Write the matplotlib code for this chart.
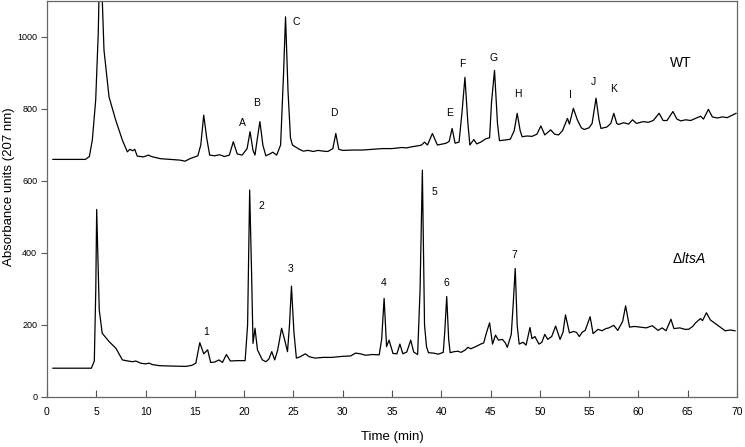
import numpy as np
import matplotlib
matplotlib.use('Agg')
import matplotlib.pyplot as plt

plt.rcParams['font.family'] = ['Liberation Sans', 'DejaVu Sans']
plt.rcParams['mathtext.fontset'] = 'custom'
plt.rcParams['mathtext.rm'] = 'Liberation Sans'
plt.rcParams['mathtext.it'] = 'Liberation Sans:italic'

# WT trace (time in min, absorbance units)
wt_t = [0.6, 3.9, 4.3, 4.6, 4.94, 5.2, 5.45, 5.55, 5.78, 6.29, 6.97, 7.64, 8.15, 8.4, 8.7, 8.9,
        9.16, 9.8, 10.3, 10.6, 11.5, 12.5, 13.5, 14.0, 14.5, 15.3, 15.6, 15.9, 16.2, 16.5,
        17.0, 17.5, 18.0, 18.5, 18.9, 19.3, 19.8, 20.3, 20.6, 20.9, 21.1, 21.35, 21.6, 21.9,
        22.2, 22.6, 22.9, 23.3, 23.7, 24.0, 24.2, 24.45, 24.7, 24.9, 25.2, 25.6, 26.0, 26.5,
        27.0, 27.5, 28.0, 28.5, 29.0, 29.3, 29.6, 30.0, 31.0, 32.0, 33.0, 34.0, 35.0, 36.0,
        36.5, 37.0, 37.7, 38.0, 38.3, 38.6, 39.1, 39.6, 40.0, 40.5, 40.8, 41.1, 41.4, 41.8,
        42.1, 42.4, 42.7, 42.9, 43.3, 43.6, 44.0, 44.5, 44.9, 45.1, 45.4, 45.7, 45.9, 46.5,
        47.0, 47.4, 47.7, 48.0, 48.2, 48.7, 49.2, 49.7, 50.1, 50.5, 50.8, 51.1, 51.5, 51.9,
        52.3, 52.8, 53.0, 53.4, 53.8, 54.2, 54.5, 55.0, 55.3, 55.7, 56.0, 56.2, 56.8, 57.2,
        57.5, 57.8, 58.0, 58.5, 59.0, 59.4, 59.8, 60.5, 61.0, 61.5, 62.1, 62.5, 62.9, 63.5,
        63.9, 64.3, 64.8, 65.3, 65.8, 66.3, 66.6, 67.1, 67.5, 68.0, 68.5, 69.0, 69.9]
wt_v = [660, 660, 668, 714, 825, 1011, 1350, 1150, 964, 834, 769, 714, 681, 688, 684, 688,
        669, 667, 672, 668, 662, 660, 658, 655, 662, 670, 700, 783, 720, 672,
        670, 673, 668, 672, 709, 675, 672, 690, 737, 685, 672, 720, 765, 700,
        670, 675, 680, 672, 700, 900, 1056, 850, 720, 700, 695, 688, 683, 685,
        682, 685, 683, 682, 690, 732, 688, 685, 686, 686, 688, 690, 690, 693,
        692, 695, 698, 700, 708, 700, 732, 700, 702, 705, 710, 746, 705, 708,
        790, 888, 760, 700, 715, 703, 708, 717, 720, 820, 907, 760, 712, 714,
        716, 740, 788, 740, 723, 725, 724, 730, 753, 728, 735, 742, 730, 728,
        740, 774, 758, 802, 770, 748, 743, 748, 760, 830, 770, 746, 750, 760,
        788, 760, 757, 762, 758, 770, 760, 765, 763, 768, 788, 768, 768, 793,
        772, 767, 770, 768, 774, 780, 772, 799, 778, 775, 778, 776, 788]

# delta ltsA trace
mut_t = [0.6, 4.5, 4.8, 4.95, 5.04, 5.15, 5.3, 5.6, 6.3, 7.0, 7.65, 8.2, 8.7, 9.0, 9.5, 10.0,
         10.35, 10.7, 11.4, 12.5, 14.1, 14.7, 15.1, 15.5, 15.9, 16.3, 16.6, 17.0, 17.45, 17.8,
         18.2, 18.6, 19.3, 20.1, 20.35, 20.56, 20.75, 20.9, 21.1, 21.35, 21.85, 22.2, 22.5,
         22.8, 23.1, 23.4, 23.8, 24.1, 24.4, 24.6, 24.8, 25.05, 25.3, 25.7, 26.2, 26.6, 27.2,
         28.0, 28.9, 30.0, 30.8, 31.3, 31.8, 32.3, 33.0, 33.7, 33.95, 34.2, 34.45, 34.7, 35.1,
         35.5, 35.8, 36.1, 36.5, 36.9, 37.2, 37.6, 37.85, 38.08, 38.3, 38.5, 38.7, 39.2, 39.7,
         40.2, 40.35, 40.55, 40.75, 40.9, 41.3, 41.7, 42.0, 42.4, 42.7, 43.0, 43.5, 44.0, 44.3,
         44.6, 44.9, 45.2, 45.5, 45.8, 46.2, 46.5, 46.7, 47.1, 47.3, 47.5, 47.7, 47.9, 48.3,
         48.6, 49.0, 49.2, 49.5, 49.9, 50.2, 50.5, 50.8, 51.2, 51.6, 52.05, 52.35, 52.6, 53.0,
         53.4, 53.7, 54.0, 54.3, 54.6, 55.1, 55.4, 55.9, 56.3, 56.7, 57.0, 57.5, 57.9, 58.4,
         58.7, 59.1, 59.6, 60.2, 60.8, 61.4, 62.0, 62.4, 62.8, 63.3, 63.6, 64.2, 64.7, 65.1,
         65.5, 65.8, 66.3, 66.5, 66.9, 67.3, 67.7, 68.1, 68.8, 69.3, 69.8]
mut_v = [80, 80, 100, 300, 521, 400, 242, 177, 154, 135, 103, 100, 98, 100, 94, 92,
         94, 90, 87, 86, 85, 88, 94, 151, 120, 131, 96, 97, 103, 96,
         118, 100, 101, 101, 200, 575, 350, 149, 191, 131, 103, 98, 105,
         126, 103, 130, 191, 160, 126, 200, 308, 180, 108, 112, 120, 112, 108,
         110, 110, 113, 114, 122, 120, 116, 118, 117, 160, 274, 140, 158, 121,
         120, 147, 120, 125, 158, 125, 118, 300, 630, 200, 140, 123, 122, 119,
         124, 180, 279, 160, 123, 126, 127, 124, 130, 138, 134, 140, 147, 150,
         180, 206, 147, 172, 158, 160, 150, 138, 174, 260, 357, 200, 147, 152,
         144, 193, 162, 168, 147, 152, 174, 160, 168, 197, 160, 180, 228, 178,
         182, 180, 168, 180, 185, 223, 176, 188, 184, 190, 192, 199, 185, 210,
         253, 194, 196, 194, 192, 198, 185, 192, 184, 216, 190, 192, 188, 188,
         196, 206, 218, 212, 234, 214, 206, 198, 184, 186, 184]

# peak annotations
wt_labels = ['A', 'B', 'C', 'D', 'E', 'F', 'G', 'H', 'I', 'J', 'K']
wt_label_t = [19.8, 21.3, 25.3, 29.1, 40.85, 42.1, 45.3, 47.8, 53.1, 55.4, 57.5]
wt_label_v = [761, 816, 1043, 788, 790, 924, 943, 842, 838, 874, 855]
mut_labels = ['1', '2', '3', '4', '5', '6', '7']
mut_label_t = [16.1, 21.7, 24.7, 34.2, 39.3, 40.5, 47.4]
mut_label_v = [180, 531, 355, 316, 570, 316, 394]

fig = plt.figure(figsize=(7.45, 4.47), dpi=100)
ax = fig.add_axes([47/745, 50/447, 690/745, 396/447])

ax.plot(wt_t, wt_v, color='black', lw=0.9)
ax.plot(mut_t, mut_v, color='black', lw=0.9)

for s, t, v in zip(wt_labels, wt_label_t, wt_label_v):
    ax.text(t, v, s, fontsize=7.5, ha='center', va='center')
for s, t, v in zip(mut_labels, mut_label_t, mut_label_v):
    ax.text(t, v, s, fontsize=7.5, ha='center', va='center')

ax.text(64.3, 927, 'WT', fontsize=10, ha='center', va='center')
ax.text(65.1, 385, r'$\Delta\mathit{ltsA}$', fontsize=10, ha='center', va='center')

ax.set_xlim(0, 70)
ax.set_ylim(0, 1100)
ax.set_xticks(np.arange(0, 71, 5))
ax.set_yticks(np.arange(0, 1001, 200))
ax.tick_params(axis='x', direction='in', length=5, width=0.8, color='#555555', labelsize=7.5, pad=7)
ax.tick_params(axis='y', direction='out', length=4, width=0.8, color='#555555', labelsize=6.5, pad=3)
for sp in ax.spines.values():
    sp.set_color('#666666')
    sp.set_linewidth(0.9)

ax.set_xlabel('Time (min)', fontsize=9.5)
ax.xaxis.set_label_coords(0.5, -0.085)
ax.set_ylabel('Absorbance units (207 nm)', fontsize=9.5)
ax.yaxis.set_label_coords(-0.046, 0.53)

plt.savefig('out.png', dpi=100)
